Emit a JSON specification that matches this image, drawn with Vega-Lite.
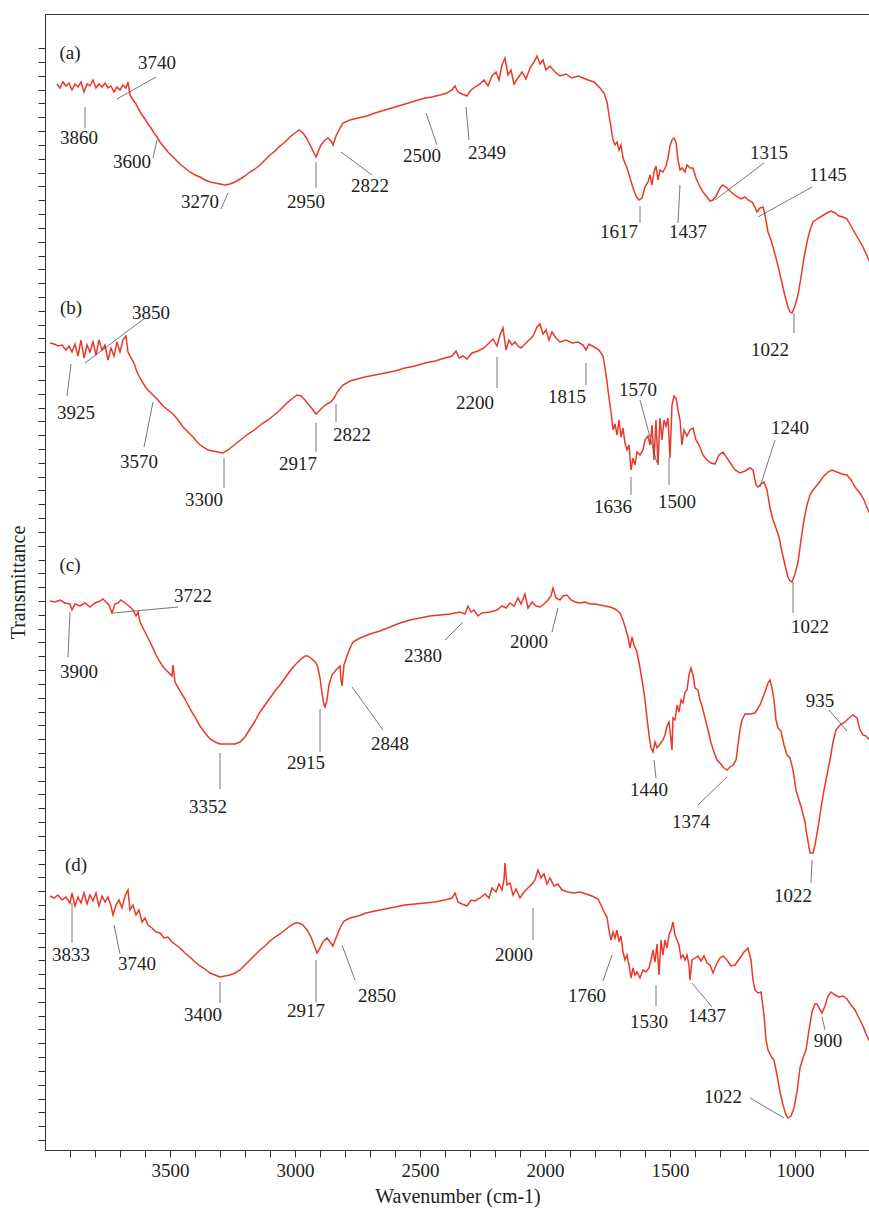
{
"$schema": "https://vega.github.io/schema/vega-lite/v6.json",
"width": 825,
"height": 1136,
"autosize": "none",
"padding": {"left": 45, "top": 14, "right": 0, "bottom": 60},
"background": "white",
"config": {
  "view": {"stroke": "#333", "strokeWidth": 1},
  "font": "Liberation Serif",
  "axis": {"labelFont": "Liberation Serif", "titleFont": "Liberation Serif", "titleFontWeight": "normal", "domainColor": "#333", "tickColor": "#333", "grid": false}
},
"datasets": {
"spectra": [
{"s":"a","wn":3952,"T":1066},{"s":"a","wn":3940,"T":1062},{"s":"a","wn":3928,"T":1068},{"s":"a","wn":3916,"T":1064},{"s":"a","wn":3904,"T":1067},{"s":"a","wn":3892,"T":1060},{"s":"a","wn":3880,"T":1066},{"s":"a","wn":3868,"T":1063},{"s":"a","wn":3856,"T":1068},{"s":"a","wn":3844,"T":1058},{"s":"a","wn":3832,"T":1066},{"s":"a","wn":3820,"T":1064},{"s":"a","wn":3808,"T":1070},{"s":"a","wn":3796,"T":1062},{"s":"a","wn":3784,"T":1066},{"s":"a","wn":3772,"T":1063},{"s":"a","wn":3760,"T":1067},{"s":"a","wn":3748,"T":1062},{"s":"a","wn":3736,"T":1064},{"s":"a","wn":3724,"T":1058},{"s":"a","wn":3712,"T":1063},{"s":"a","wn":3700,"T":1060},{"s":"a","wn":3688,"T":1065},{"s":"a","wn":3676,"T":1062},{"s":"a","wn":3668,"T":1068},{"s":"a","wn":3660,"T":1055},{"s":"a","wn":3648,"T":1050},{"s":"a","wn":3636,"T":1046},{"s":"a","wn":3624,"T":1040},{"s":"a","wn":3612,"T":1035},{"s":"a","wn":3600,"T":1031},{"s":"a","wn":3588,"T":1026},{"s":"a","wn":3576,"T":1022},{"s":"a","wn":3564,"T":1017},{"s":"a","wn":3552,"T":1013},{"s":"a","wn":3540,"T":1008},{"s":"a","wn":3524,"T":1003},{"s":"a","wn":3508,"T":998},{"s":"a","wn":3492,"T":994},{"s":"a","wn":3476,"T":990},{"s":"a","wn":3460,"T":986},{"s":"a","wn":3440,"T":982},{"s":"a","wn":3420,"T":978},{"s":"a","wn":3400,"T":975},{"s":"a","wn":3380,"T":973},{"s":"a","wn":3360,"T":970},{"s":"a","wn":3340,"T":968},{"s":"a","wn":3320,"T":967},{"s":"a","wn":3300,"T":966},{"s":"a","wn":3280,"T":965},{"s":"a","wn":3260,"T":966},{"s":"a","wn":3240,"T":968},{"s":"a","wn":3220,"T":971},{"s":"a","wn":3200,"T":974},{"s":"a","wn":3180,"T":978},{"s":"a","wn":3160,"T":981},{"s":"a","wn":3140,"T":985},{"s":"a","wn":3120,"T":990},{"s":"a","wn":3100,"T":995},{"s":"a","wn":3080,"T":999},{"s":"a","wn":3060,"T":1004},{"s":"a","wn":3040,"T":1008},{"s":"a","wn":3020,"T":1013},{"s":"a","wn":3000,"T":1017},{"s":"a","wn":2984,"T":1020},{"s":"a","wn":2968,"T":1017},{"s":"a","wn":2952,"T":1011},{"s":"a","wn":2936,"T":1003},{"s":"a","wn":2924,"T":997},{"s":"a","wn":2916,"T":993},{"s":"a","wn":2908,"T":998},{"s":"a","wn":2896,"T":1005},{"s":"a","wn":2880,"T":1010},{"s":"a","wn":2868,"T":1012},{"s":"a","wn":2856,"T":1009},{"s":"a","wn":2848,"T":1005},{"s":"a","wn":2836,"T":1014},{"s":"a","wn":2820,"T":1022},{"s":"a","wn":2808,"T":1027},{"s":"a","wn":2780,"T":1030},{"s":"a","wn":2748,"T":1032},{"s":"a","wn":2712,"T":1034},{"s":"a","wn":2680,"T":1037},{"s":"a","wn":2640,"T":1040},{"s":"a","wn":2600,"T":1043},{"s":"a","wn":2560,"T":1046},{"s":"a","wn":2520,"T":1049},{"s":"a","wn":2480,"T":1052},{"s":"a","wn":2452,"T":1053},{"s":"a","wn":2420,"T":1055},{"s":"a","wn":2392,"T":1057},{"s":"a","wn":2372,"T":1060},{"s":"a","wn":2360,"T":1064},{"s":"a","wn":2348,"T":1058},{"s":"a","wn":2332,"T":1056},{"s":"a","wn":2312,"T":1054},{"s":"a","wn":2296,"T":1060},{"s":"a","wn":2280,"T":1063},{"s":"a","wn":2260,"T":1066},{"s":"a","wn":2244,"T":1070},{"s":"a","wn":2228,"T":1064},{"s":"a","wn":2212,"T":1074},{"s":"a","wn":2196,"T":1078},{"s":"a","wn":2184,"T":1070},{"s":"a","wn":2172,"T":1085},{"s":"a","wn":2160,"T":1092},{"s":"a","wn":2148,"T":1075},{"s":"a","wn":2136,"T":1080},{"s":"a","wn":2124,"T":1066},{"s":"a","wn":2108,"T":1072},{"s":"a","wn":2092,"T":1078},{"s":"a","wn":2076,"T":1071},{"s":"a","wn":2060,"T":1082},{"s":"a","wn":2044,"T":1088},{"s":"a","wn":2032,"T":1094},{"s":"a","wn":2020,"T":1086},{"s":"a","wn":2008,"T":1090},{"s":"a","wn":1996,"T":1080},{"s":"a","wn":1980,"T":1084},{"s":"a","wn":1960,"T":1078},{"s":"a","wn":1940,"T":1074},{"s":"a","wn":1916,"T":1076},{"s":"a","wn":1892,"T":1072},{"s":"a","wn":1868,"T":1074},{"s":"a","wn":1848,"T":1072},{"s":"a","wn":1828,"T":1070},{"s":"a","wn":1804,"T":1068},{"s":"a","wn":1780,"T":1062},{"s":"a","wn":1764,"T":1057},{"s":"a","wn":1752,"T":1048},{"s":"a","wn":1744,"T":1035},{"s":"a","wn":1736,"T":1023},{"s":"a","wn":1728,"T":1010},{"s":"a","wn":1720,"T":1005},{"s":"a","wn":1712,"T":1008},{"s":"a","wn":1704,"T":1000},{"s":"a","wn":1696,"T":1005},{"s":"a","wn":1688,"T":992},{"s":"a","wn":1680,"T":987},{"s":"a","wn":1672,"T":982},{"s":"a","wn":1660,"T":972},{"s":"a","wn":1648,"T":962},{"s":"a","wn":1636,"T":954},{"s":"a","wn":1624,"T":950},{"s":"a","wn":1612,"T":952},{"s":"a","wn":1600,"T":963},{"s":"a","wn":1588,"T":968},{"s":"a","wn":1580,"T":975},{"s":"a","wn":1572,"T":965},{"s":"a","wn":1564,"T":978},{"s":"a","wn":1556,"T":984},{"s":"a","wn":1548,"T":970},{"s":"a","wn":1540,"T":980},{"s":"a","wn":1528,"T":978},{"s":"a","wn":1516,"T":984},{"s":"a","wn":1508,"T":992},{"s":"a","wn":1500,"T":1004},{"s":"a","wn":1492,"T":1010},{"s":"a","wn":1484,"T":1012},{"s":"a","wn":1476,"T":1008},{"s":"a","wn":1468,"T":990},{"s":"a","wn":1460,"T":980},{"s":"a","wn":1452,"T":982},{"s":"a","wn":1440,"T":978},{"s":"a","wn":1432,"T":985},{"s":"a","wn":1420,"T":982},{"s":"a","wn":1408,"T":982},{"s":"a","wn":1396,"T":972},{"s":"a","wn":1380,"T":963},{"s":"a","wn":1368,"T":958},{"s":"a","wn":1352,"T":953},{"s":"a","wn":1340,"T":949},{"s":"a","wn":1328,"T":950},{"s":"a","wn":1316,"T":954},{"s":"a","wn":1300,"T":962},{"s":"a","wn":1288,"T":965},{"s":"a","wn":1272,"T":962},{"s":"a","wn":1256,"T":958},{"s":"a","wn":1236,"T":954},{"s":"a","wn":1216,"T":951},{"s":"a","wn":1200,"T":953},{"s":"a","wn":1188,"T":950},{"s":"a","wn":1172,"T":948},{"s":"a","wn":1160,"T":943},{"s":"a","wn":1152,"T":938},{"s":"a","wn":1140,"T":942},{"s":"a","wn":1128,"T":943},{"s":"a","wn":1120,"T":935},{"s":"a","wn":1108,"T":918},{"s":"a","wn":1096,"T":910},{"s":"a","wn":1088,"T":903},{"s":"a","wn":1076,"T":892},{"s":"a","wn":1064,"T":880},{"s":"a","wn":1052,"T":867},{"s":"a","wn":1040,"T":854},{"s":"a","wn":1028,"T":843},{"s":"a","wn":1020,"T":838},{"s":"a","wn":1012,"T":837},{"s":"a","wn":1000,"T":844},{"s":"a","wn":988,"T":855},{"s":"a","wn":976,"T":873},{"s":"a","wn":964,"T":892},{"s":"a","wn":952,"T":908},{"s":"a","wn":940,"T":920},{"s":"a","wn":928,"T":928},{"s":"a","wn":912,"T":931},{"s":"a","wn":892,"T":934},{"s":"a","wn":872,"T":937},{"s":"a","wn":856,"T":939},{"s":"a","wn":840,"T":937},{"s":"a","wn":824,"T":934},{"s":"a","wn":808,"T":933},{"s":"a","wn":792,"T":931},{"s":"a","wn":776,"T":924},{"s":"a","wn":760,"T":917},{"s":"a","wn":744,"T":910},{"s":"a","wn":728,"T":903},{"s":"a","wn":708,"T":892},{"s":"a","wn":700,"T":888},
{"s":"b","wn":3980,"T":807},{"s":"b","wn":3964,"T":806},{"s":"b","wn":3948,"T":804},{"s":"b","wn":3932,"T":805},{"s":"b","wn":3916,"T":800},{"s":"b","wn":3904,"T":804},{"s":"b","wn":3892,"T":798},{"s":"b","wn":3880,"T":806},{"s":"b","wn":3868,"T":794},{"s":"b","wn":3856,"T":810},{"s":"b","wn":3844,"T":792},{"s":"b","wn":3832,"T":805},{"s":"b","wn":3820,"T":798},{"s":"b","wn":3808,"T":808},{"s":"b","wn":3796,"T":795},{"s":"b","wn":3784,"T":810},{"s":"b","wn":3772,"T":800},{"s":"b","wn":3760,"T":805},{"s":"b","wn":3748,"T":790},{"s":"b","wn":3736,"T":802},{"s":"b","wn":3724,"T":794},{"s":"b","wn":3712,"T":808},{"s":"b","wn":3700,"T":798},{"s":"b","wn":3688,"T":810},{"s":"b","wn":3676,"T":814},{"s":"b","wn":3668,"T":798},{"s":"b","wn":3656,"T":792},{"s":"b","wn":3644,"T":787},{"s":"b","wn":3632,"T":778},{"s":"b","wn":3620,"T":772},{"s":"b","wn":3608,"T":767},{"s":"b","wn":3596,"T":762},{"s":"b","wn":3580,"T":758},{"s":"b","wn":3564,"T":754},{"s":"b","wn":3548,"T":750},{"s":"b","wn":3528,"T":744},{"s":"b","wn":3508,"T":740},{"s":"b","wn":3488,"T":736},{"s":"b","wn":3468,"T":730},{"s":"b","wn":3448,"T":723},{"s":"b","wn":3428,"T":718},{"s":"b","wn":3408,"T":713},{"s":"b","wn":3388,"T":707},{"s":"b","wn":3368,"T":703},{"s":"b","wn":3348,"T":700},{"s":"b","wn":3328,"T":699},{"s":"b","wn":3308,"T":698},{"s":"b","wn":3288,"T":697},{"s":"b","wn":3268,"T":700},{"s":"b","wn":3248,"T":704},{"s":"b","wn":3228,"T":708},{"s":"b","wn":3208,"T":712},{"s":"b","wn":3188,"T":716},{"s":"b","wn":3168,"T":719},{"s":"b","wn":3148,"T":723},{"s":"b","wn":3128,"T":727},{"s":"b","wn":3108,"T":730},{"s":"b","wn":3088,"T":734},{"s":"b","wn":3068,"T":738},{"s":"b","wn":3048,"T":743},{"s":"b","wn":3028,"T":748},{"s":"b","wn":3008,"T":752},{"s":"b","wn":2992,"T":755},{"s":"b","wn":2976,"T":754},{"s":"b","wn":2960,"T":750},{"s":"b","wn":2944,"T":745},{"s":"b","wn":2928,"T":740},{"s":"b","wn":2916,"T":736},{"s":"b","wn":2904,"T":739},{"s":"b","wn":2888,"T":743},{"s":"b","wn":2872,"T":746},{"s":"b","wn":2856,"T":748},{"s":"b","wn":2844,"T":752},{"s":"b","wn":2828,"T":759},{"s":"b","wn":2808,"T":765},{"s":"b","wn":2780,"T":769},{"s":"b","wn":2752,"T":771},{"s":"b","wn":2720,"T":773},{"s":"b","wn":2680,"T":775},{"s":"b","wn":2640,"T":777},{"s":"b","wn":2600,"T":779},{"s":"b","wn":2560,"T":782},{"s":"b","wn":2520,"T":784},{"s":"b","wn":2480,"T":787},{"s":"b","wn":2440,"T":789},{"s":"b","wn":2400,"T":792},{"s":"b","wn":2372,"T":794},{"s":"b","wn":2356,"T":799},{"s":"b","wn":2344,"T":792},{"s":"b","wn":2328,"T":794},{"s":"b","wn":2312,"T":791},{"s":"b","wn":2292,"T":797},{"s":"b","wn":2268,"T":799},{"s":"b","wn":2244,"T":802},{"s":"b","wn":2224,"T":807},{"s":"b","wn":2208,"T":811},{"s":"b","wn":2192,"T":804},{"s":"b","wn":2180,"T":815},{"s":"b","wn":2168,"T":822},{"s":"b","wn":2156,"T":800},{"s":"b","wn":2144,"T":810},{"s":"b","wn":2132,"T":805},{"s":"b","wn":2120,"T":808},{"s":"b","wn":2108,"T":804},{"s":"b","wn":2096,"T":802},{"s":"b","wn":2080,"T":806},{"s":"b","wn":2064,"T":810},{"s":"b","wn":2048,"T":814},{"s":"b","wn":2032,"T":823},{"s":"b","wn":2020,"T":826},{"s":"b","wn":2008,"T":816},{"s":"b","wn":1996,"T":820},{"s":"b","wn":1984,"T":810},{"s":"b","wn":1972,"T":818},{"s":"b","wn":1956,"T":812},{"s":"b","wn":1940,"T":808},{"s":"b","wn":1916,"T":810},{"s":"b","wn":1892,"T":807},{"s":"b","wn":1868,"T":808},{"s":"b","wn":1848,"T":805},{"s":"b","wn":1836,"T":800},{"s":"b","wn":1824,"T":806},{"s":"b","wn":1804,"T":803},{"s":"b","wn":1784,"T":800},{"s":"b","wn":1768,"T":794},{"s":"b","wn":1760,"T":782},{"s":"b","wn":1752,"T":768},{"s":"b","wn":1744,"T":752},{"s":"b","wn":1736,"T":738},{"s":"b","wn":1728,"T":720},{"s":"b","wn":1720,"T":726},{"s":"b","wn":1712,"T":715},{"s":"b","wn":1704,"T":730},{"s":"b","wn":1696,"T":713},{"s":"b","wn":1688,"T":722},{"s":"b","wn":1680,"T":707},{"s":"b","wn":1672,"T":700},{"s":"b","wn":1664,"T":705},{"s":"b","wn":1656,"T":680},{"s":"b","wn":1648,"T":692},{"s":"b","wn":1640,"T":685},{"s":"b","wn":1632,"T":698},{"s":"b","wn":1620,"T":695},{"s":"b","wn":1608,"T":700},{"s":"b","wn":1600,"T":710},{"s":"b","wn":1588,"T":714},{"s":"b","wn":1580,"T":705},{"s":"b","wn":1572,"T":725},{"s":"b","wn":1564,"T":690},{"s":"b","wn":1556,"T":730},{"s":"b","wn":1548,"T":685},{"s":"b","wn":1540,"T":732},{"s":"b","wn":1532,"T":710},{"s":"b","wn":1524,"T":730},{"s":"b","wn":1516,"T":724},{"s":"b","wn":1508,"T":732},{"s":"b","wn":1500,"T":692},{"s":"b","wn":1492,"T":745},{"s":"b","wn":1484,"T":754},{"s":"b","wn":1476,"T":752},{"s":"b","wn":1468,"T":740},{"s":"b","wn":1460,"T":730},{"s":"b","wn":1452,"T":705},{"s":"b","wn":1444,"T":720},{"s":"b","wn":1432,"T":714},{"s":"b","wn":1420,"T":720},{"s":"b","wn":1408,"T":722},{"s":"b","wn":1396,"T":710},{"s":"b","wn":1384,"T":705},{"s":"b","wn":1368,"T":695},{"s":"b","wn":1352,"T":690},{"s":"b","wn":1336,"T":687},{"s":"b","wn":1320,"T":686},{"s":"b","wn":1304,"T":695},{"s":"b","wn":1288,"T":698},{"s":"b","wn":1272,"T":692},{"s":"b","wn":1256,"T":686},{"s":"b","wn":1240,"T":680},{"s":"b","wn":1220,"T":677},{"s":"b","wn":1200,"T":679},{"s":"b","wn":1180,"T":682},{"s":"b","wn":1168,"T":680},{"s":"b","wn":1156,"T":665},{"s":"b","wn":1148,"T":663},{"s":"b","wn":1136,"T":666},{"s":"b","wn":1124,"T":668},{"s":"b","wn":1112,"T":660},{"s":"b","wn":1100,"T":642},{"s":"b","wn":1088,"T":630},{"s":"b","wn":1076,"T":622},{"s":"b","wn":1064,"T":613},{"s":"b","wn":1052,"T":598},{"s":"b","wn":1040,"T":585},{"s":"b","wn":1028,"T":573},{"s":"b","wn":1020,"T":569},{"s":"b","wn":1012,"T":568},{"s":"b","wn":1000,"T":576},{"s":"b","wn":988,"T":588},{"s":"b","wn":976,"T":610},{"s":"b","wn":964,"T":630},{"s":"b","wn":952,"T":645},{"s":"b","wn":940,"T":655},{"s":"b","wn":928,"T":660},{"s":"b","wn":908,"T":666},{"s":"b","wn":888,"T":673},{"s":"b","wn":868,"T":678},{"s":"b","wn":852,"T":680},{"s":"b","wn":832,"T":678},{"s":"b","wn":812,"T":676},{"s":"b","wn":792,"T":675},{"s":"b","wn":776,"T":670},{"s":"b","wn":760,"T":663},{"s":"b","wn":740,"T":657},{"s":"b","wn":724,"T":650},{"s":"b","wn":708,"T":640},{"s":"b","wn":700,"T":636},
{"s":"c","wn":3980,"T":549},{"s":"c","wn":3960,"T":548},{"s":"c","wn":3940,"T":550},{"s":"c","wn":3920,"T":547},{"s":"c","wn":3900,"T":546},{"s":"c","wn":3892,"T":540},{"s":"c","wn":3880,"T":546},{"s":"c","wn":3860,"T":544},{"s":"c","wn":3840,"T":547},{"s":"c","wn":3820,"T":543},{"s":"c","wn":3800,"T":547},{"s":"c","wn":3780,"T":549},{"s":"c","wn":3768,"T":551},{"s":"c","wn":3756,"T":548},{"s":"c","wn":3744,"T":545},{"s":"c","wn":3732,"T":537},{"s":"c","wn":3720,"T":546},{"s":"c","wn":3708,"T":547},{"s":"c","wn":3696,"T":550},{"s":"c","wn":3680,"T":547},{"s":"c","wn":3664,"T":544},{"s":"c","wn":3648,"T":540},{"s":"c","wn":3636,"T":534},{"s":"c","wn":3628,"T":538},{"s":"c","wn":3620,"T":528},{"s":"c","wn":3604,"T":520},{"s":"c","wn":3588,"T":512},{"s":"c","wn":3572,"T":504},{"s":"c","wn":3556,"T":495},{"s":"c","wn":3540,"T":488},{"s":"c","wn":3524,"T":482},{"s":"c","wn":3508,"T":478},{"s":"c","wn":3492,"T":474},{"s":"c","wn":3488,"T":485},{"s":"c","wn":3480,"T":468},{"s":"c","wn":3460,"T":459},{"s":"c","wn":3440,"T":451},{"s":"c","wn":3420,"T":441},{"s":"c","wn":3400,"T":433},{"s":"c","wn":3380,"T":424},{"s":"c","wn":3360,"T":417},{"s":"c","wn":3340,"T":411},{"s":"c","wn":3320,"T":408},{"s":"c","wn":3300,"T":406},{"s":"c","wn":3280,"T":406},{"s":"c","wn":3260,"T":406},{"s":"c","wn":3240,"T":406},{"s":"c","wn":3220,"T":408},{"s":"c","wn":3200,"T":413},{"s":"c","wn":3180,"T":421},{"s":"c","wn":3160,"T":429},{"s":"c","wn":3140,"T":438},{"s":"c","wn":3120,"T":445},{"s":"c","wn":3100,"T":452},{"s":"c","wn":3080,"T":459},{"s":"c","wn":3060,"T":465},{"s":"c","wn":3040,"T":472},{"s":"c","wn":3020,"T":479},{"s":"c","wn":3000,"T":485},{"s":"c","wn":2980,"T":490},{"s":"c","wn":2960,"T":494},{"s":"c","wn":2948,"T":494},{"s":"c","wn":2932,"T":491},{"s":"c","wn":2916,"T":487},{"s":"c","wn":2908,"T":482},{"s":"c","wn":2900,"T":472},{"s":"c","wn":2892,"T":457},{"s":"c","wn":2884,"T":445},{"s":"c","wn":2880,"T":443},{"s":"c","wn":2872,"T":450},{"s":"c","wn":2864,"T":465},{"s":"c","wn":2852,"T":475},{"s":"c","wn":2836,"T":480},{"s":"c","wn":2820,"T":484},{"s":"c","wn":2816,"T":470},{"s":"c","wn":2812,"T":464},{"s":"c","wn":2804,"T":485},{"s":"c","wn":2792,"T":494},{"s":"c","wn":2780,"T":502},{"s":"c","wn":2768,"T":508},{"s":"c","wn":2740,"T":512},{"s":"c","wn":2700,"T":516},{"s":"c","wn":2660,"T":519},{"s":"c","wn":2620,"T":523},{"s":"c","wn":2580,"T":527},{"s":"c","wn":2540,"T":530},{"s":"c","wn":2500,"T":532},{"s":"c","wn":2460,"T":534},{"s":"c","wn":2420,"T":535},{"s":"c","wn":2380,"T":536},{"s":"c","wn":2340,"T":538},{"s":"c","wn":2320,"T":536},{"s":"c","wn":2308,"T":544},{"s":"c","wn":2296,"T":538},{"s":"c","wn":2284,"T":540},{"s":"c","wn":2268,"T":534},{"s":"c","wn":2252,"T":537},{"s":"c","wn":2220,"T":538},{"s":"c","wn":2192,"T":540},{"s":"c","wn":2172,"T":544},{"s":"c","wn":2156,"T":542},{"s":"c","wn":2140,"T":547},{"s":"c","wn":2124,"T":544},{"s":"c","wn":2108,"T":552},{"s":"c","wn":2096,"T":546},{"s":"c","wn":2080,"T":556},{"s":"c","wn":2068,"T":542},{"s":"c","wn":2052,"T":548},{"s":"c","wn":2036,"T":544},{"s":"c","wn":2020,"T":543},{"s":"c","wn":2004,"T":546},{"s":"c","wn":1988,"T":550},{"s":"c","wn":1976,"T":554},{"s":"c","wn":1968,"T":562},{"s":"c","wn":1956,"T":552},{"s":"c","wn":1940,"T":550},{"s":"c","wn":1928,"T":554},{"s":"c","wn":1912,"T":555},{"s":"c","wn":1896,"T":550},{"s":"c","wn":1880,"T":548},{"s":"c","wn":1860,"T":547},{"s":"c","wn":1840,"T":548},{"s":"c","wn":1820,"T":546},{"s":"c","wn":1800,"T":546},{"s":"c","wn":1780,"T":545},{"s":"c","wn":1760,"T":544},{"s":"c","wn":1740,"T":543},{"s":"c","wn":1720,"T":541},{"s":"c","wn":1700,"T":537},{"s":"c","wn":1688,"T":530},{"s":"c","wn":1676,"T":520},{"s":"c","wn":1668,"T":513},{"s":"c","wn":1660,"T":502},{"s":"c","wn":1652,"T":513},{"s":"c","wn":1644,"T":505},{"s":"c","wn":1632,"T":498},{"s":"c","wn":1620,"T":482},{"s":"c","wn":1608,"T":464},{"s":"c","wn":1600,"T":450},{"s":"c","wn":1592,"T":432},{"s":"c","wn":1584,"T":415},{"s":"c","wn":1576,"T":402},{"s":"c","wn":1568,"T":398},{"s":"c","wn":1560,"T":408},{"s":"c","wn":1552,"T":402},{"s":"c","wn":1540,"T":406},{"s":"c","wn":1528,"T":410},{"s":"c","wn":1520,"T":415},{"s":"c","wn":1512,"T":424},{"s":"c","wn":1504,"T":428},{"s":"c","wn":1496,"T":410},{"s":"c","wn":1492,"T":400},{"s":"c","wn":1488,"T":432},{"s":"c","wn":1480,"T":430},{"s":"c","wn":1472,"T":445},{"s":"c","wn":1464,"T":438},{"s":"c","wn":1456,"T":450},{"s":"c","wn":1448,"T":447},{"s":"c","wn":1440,"T":458},{"s":"c","wn":1432,"T":460},{"s":"c","wn":1424,"T":475},{"s":"c","wn":1416,"T":482},{"s":"c","wn":1408,"T":475},{"s":"c","wn":1400,"T":462},{"s":"c","wn":1388,"T":460},{"s":"c","wn":1380,"T":450},{"s":"c","wn":1372,"T":444},{"s":"c","wn":1360,"T":432},{"s":"c","wn":1348,"T":420},{"s":"c","wn":1336,"T":407},{"s":"c","wn":1324,"T":398},{"s":"c","wn":1312,"T":390},{"s":"c","wn":1300,"T":387},{"s":"c","wn":1284,"T":382},{"s":"c","wn":1272,"T":380},{"s":"c","wn":1260,"T":383},{"s":"c","wn":1248,"T":385},{"s":"c","wn":1236,"T":390},{"s":"c","wn":1228,"T":405},{"s":"c","wn":1220,"T":420},{"s":"c","wn":1212,"T":430},{"s":"c","wn":1200,"T":436},{"s":"c","wn":1180,"T":436},{"s":"c","wn":1160,"T":437},{"s":"c","wn":1140,"T":445},{"s":"c","wn":1120,"T":458},{"s":"c","wn":1108,"T":467},{"s":"c","wn":1100,"T":470},{"s":"c","wn":1092,"T":462},{"s":"c","wn":1084,"T":450},{"s":"c","wn":1076,"T":430},{"s":"c","wn":1068,"T":422},{"s":"c","wn":1056,"T":419},{"s":"c","wn":1044,"T":405},{"s":"c","wn":1032,"T":395},{"s":"c","wn":1020,"T":392},{"s":"c","wn":1008,"T":380},{"s":"c","wn":996,"T":360},{"s":"c","wn":984,"T":350},{"s":"c","wn":972,"T":340},{"s":"c","wn":960,"T":328},{"s":"c","wn":952,"T":314},{"s":"c","wn":940,"T":297},{"s":"c","wn":928,"T":297},{"s":"c","wn":920,"T":305},{"s":"c","wn":908,"T":322},{"s":"c","wn":896,"T":342},{"s":"c","wn":884,"T":360},{"s":"c","wn":872,"T":375},{"s":"c","wn":860,"T":390},{"s":"c","wn":848,"T":408},{"s":"c","wn":836,"T":420},{"s":"c","wn":820,"T":425},{"s":"c","wn":800,"T":428},{"s":"c","wn":784,"T":432},{"s":"c","wn":768,"T":435},{"s":"c","wn":752,"T":432},{"s":"c","wn":740,"T":420},{"s":"c","wn":728,"T":415},{"s":"c","wn":716,"T":414},{"s":"c","wn":700,"T":410},
{"s":"d","wn":3980,"T":254},{"s":"d","wn":3964,"T":252},{"s":"d","wn":3948,"T":255},{"s":"d","wn":3932,"T":250},{"s":"d","wn":3916,"T":253},{"s":"d","wn":3900,"T":247},{"s":"d","wn":3892,"T":257},{"s":"d","wn":3880,"T":244},{"s":"d","wn":3868,"T":253},{"s":"d","wn":3856,"T":247},{"s":"d","wn":3844,"T":257},{"s":"d","wn":3832,"T":246},{"s":"d","wn":3820,"T":255},{"s":"d","wn":3808,"T":249},{"s":"d","wn":3796,"T":257},{"s":"d","wn":3784,"T":244},{"s":"d","wn":3772,"T":254},{"s":"d","wn":3760,"T":248},{"s":"d","wn":3748,"T":253},{"s":"d","wn":3736,"T":244},{"s":"d","wn":3728,"T":235},{"s":"d","wn":3716,"T":245},{"s":"d","wn":3704,"T":250},{"s":"d","wn":3692,"T":242},{"s":"d","wn":3680,"T":254},{"s":"d","wn":3668,"T":260},{"s":"d","wn":3660,"T":240},{"s":"d","wn":3648,"T":245},{"s":"d","wn":3636,"T":235},{"s":"d","wn":3624,"T":240},{"s":"d","wn":3612,"T":228},{"s":"d","wn":3600,"T":232},{"s":"d","wn":3588,"T":225},{"s":"d","wn":3572,"T":222},{"s":"d","wn":3556,"T":218},{"s":"d","wn":3540,"T":217},{"s":"d","wn":3524,"T":212},{"s":"d","wn":3508,"T":213},{"s":"d","wn":3492,"T":208},{"s":"d","wn":3476,"T":205},{"s":"d","wn":3460,"T":202},{"s":"d","wn":3440,"T":197},{"s":"d","wn":3420,"T":193},{"s":"d","wn":3400,"T":188},{"s":"d","wn":3380,"T":184},{"s":"d","wn":3360,"T":181},{"s":"d","wn":3340,"T":177},{"s":"d","wn":3320,"T":175},{"s":"d","wn":3300,"T":173},{"s":"d","wn":3280,"T":174},{"s":"d","wn":3260,"T":175},{"s":"d","wn":3240,"T":177},{"s":"d","wn":3220,"T":180},{"s":"d","wn":3200,"T":185},{"s":"d","wn":3180,"T":190},{"s":"d","wn":3160,"T":195},{"s":"d","wn":3140,"T":200},{"s":"d","wn":3120,"T":204},{"s":"d","wn":3100,"T":209},{"s":"d","wn":3080,"T":213},{"s":"d","wn":3060,"T":216},{"s":"d","wn":3040,"T":220},{"s":"d","wn":3020,"T":224},{"s":"d","wn":3000,"T":227},{"s":"d","wn":2984,"T":227},{"s":"d","wn":2968,"T":225},{"s":"d","wn":2952,"T":220},{"s":"d","wn":2936,"T":213},{"s":"d","wn":2924,"T":205},{"s":"d","wn":2912,"T":197},{"s":"d","wn":2900,"T":202},{"s":"d","wn":2888,"T":208},{"s":"d","wn":2872,"T":212},{"s":"d","wn":2860,"T":208},{"s":"d","wn":2848,"T":204},{"s":"d","wn":2836,"T":212},{"s":"d","wn":2820,"T":222},{"s":"d","wn":2804,"T":229},{"s":"d","wn":2780,"T":232},{"s":"d","wn":2748,"T":234},{"s":"d","wn":2716,"T":237},{"s":"d","wn":2680,"T":239},{"s":"d","wn":2640,"T":241},{"s":"d","wn":2600,"T":243},{"s":"d","wn":2560,"T":245},{"s":"d","wn":2520,"T":246},{"s":"d","wn":2480,"T":247},{"s":"d","wn":2440,"T":248},{"s":"d","wn":2400,"T":250},{"s":"d","wn":2372,"T":252},{"s":"d","wn":2360,"T":257},{"s":"d","wn":2348,"T":248},{"s":"d","wn":2332,"T":246},{"s":"d","wn":2312,"T":244},{"s":"d","wn":2296,"T":250},{"s":"d","wn":2280,"T":249},{"s":"d","wn":2260,"T":252},{"s":"d","wn":2240,"T":256},{"s":"d","wn":2224,"T":252},{"s":"d","wn":2212,"T":262},{"s":"d","wn":2196,"T":258},{"s":"d","wn":2184,"T":266},{"s":"d","wn":2172,"T":260},{"s":"d","wn":2164,"T":270},{"s":"d","wn":2160,"T":287},{"s":"d","wn":2152,"T":265},{"s":"d","wn":2140,"T":267},{"s":"d","wn":2128,"T":255},{"s":"d","wn":2116,"T":261},{"s":"d","wn":2100,"T":252},{"s":"d","wn":2084,"T":258},{"s":"d","wn":2068,"T":262},{"s":"d","wn":2052,"T":266},{"s":"d","wn":2040,"T":270},{"s":"d","wn":2028,"T":280},{"s":"d","wn":2016,"T":272},{"s":"d","wn":2004,"T":276},{"s":"d","wn":1992,"T":266},{"s":"d","wn":1980,"T":272},{"s":"d","wn":1964,"T":264},{"s":"d","wn":1948,"T":266},{"s":"d","wn":1932,"T":260},{"s":"d","wn":1908,"T":258},{"s":"d","wn":1884,"T":257},{"s":"d","wn":1860,"T":258},{"s":"d","wn":1836,"T":256},{"s":"d","wn":1812,"T":254},{"s":"d","wn":1788,"T":251},{"s":"d","wn":1776,"T":245},{"s":"d","wn":1764,"T":238},{"s":"d","wn":1752,"T":233},{"s":"d","wn":1744,"T":220},{"s":"d","wn":1736,"T":210},{"s":"d","wn":1728,"T":218},{"s":"d","wn":1720,"T":212},{"s":"d","wn":1712,"T":220},{"s":"d","wn":1704,"T":208},{"s":"d","wn":1696,"T":214},{"s":"d","wn":1688,"T":198},{"s":"d","wn":1680,"T":190},{"s":"d","wn":1672,"T":195},{"s":"d","wn":1664,"T":185},{"s":"d","wn":1656,"T":172},{"s":"d","wn":1648,"T":182},{"s":"d","wn":1640,"T":175},{"s":"d","wn":1632,"T":178},{"s":"d","wn":1620,"T":172},{"s":"d","wn":1608,"T":180},{"s":"d","wn":1596,"T":178},{"s":"d","wn":1584,"T":182},{"s":"d","wn":1576,"T":190},{"s":"d","wn":1568,"T":200},{"s":"d","wn":1560,"T":188},{"s":"d","wn":1552,"T":206},{"s":"d","wn":1544,"T":175},{"s":"d","wn":1536,"T":210},{"s":"d","wn":1528,"T":195},{"s":"d","wn":1520,"T":210},{"s":"d","wn":1512,"T":202},{"s":"d","wn":1504,"T":215},{"s":"d","wn":1496,"T":220},{"s":"d","wn":1488,"T":228},{"s":"d","wn":1480,"T":215},{"s":"d","wn":1472,"T":210},{"s":"d","wn":1464,"T":205},{"s":"d","wn":1456,"T":192},{"s":"d","wn":1448,"T":195},{"s":"d","wn":1440,"T":190},{"s":"d","wn":1432,"T":195},{"s":"d","wn":1424,"T":185},{"s":"d","wn":1420,"T":170},{"s":"d","wn":1412,"T":190},{"s":"d","wn":1400,"T":192},{"s":"d","wn":1388,"T":194},{"s":"d","wn":1376,"T":189},{"s":"d","wn":1364,"T":194},{"s":"d","wn":1352,"T":187},{"s":"d","wn":1340,"T":185},{"s":"d","wn":1328,"T":177},{"s":"d","wn":1312,"T":187},{"s":"d","wn":1300,"T":192},{"s":"d","wn":1288,"T":194},{"s":"d","wn":1272,"T":190},{"s":"d","wn":1256,"T":184},{"s":"d","wn":1240,"T":185},{"s":"d","wn":1220,"T":192},{"s":"d","wn":1204,"T":198},{"s":"d","wn":1188,"T":202},{"s":"d","wn":1176,"T":190},{"s":"d","wn":1168,"T":170},{"s":"d","wn":1160,"T":160},{"s":"d","wn":1148,"T":157},{"s":"d","wn":1136,"T":158},{"s":"d","wn":1124,"T":135},{"s":"d","wn":1116,"T":110},{"s":"d","wn":1108,"T":100},{"s":"d","wn":1096,"T":94},{"s":"d","wn":1084,"T":90},{"s":"d","wn":1072,"T":75},{"s":"d","wn":1060,"T":58},{"s":"d","wn":1048,"T":45},{"s":"d","wn":1036,"T":35},{"s":"d","wn":1028,"T":32},{"s":"d","wn":1016,"T":34},{"s":"d","wn":1004,"T":42},{"s":"d","wn":992,"T":58},{"s":"d","wn":980,"T":82},{"s":"d","wn":968,"T":92},{"s":"d","wn":956,"T":100},{"s":"d","wn":944,"T":120},{"s":"d","wn":932,"T":138},{"s":"d","wn":920,"T":146},{"s":"d","wn":912,"T":146},{"s":"d","wn":904,"T":142},{"s":"d","wn":892,"T":137},{"s":"d","wn":880,"T":144},{"s":"d","wn":868,"T":154},{"s":"d","wn":856,"T":158},{"s":"d","wn":840,"T":155},{"s":"d","wn":824,"T":153},{"s":"d","wn":808,"T":154},{"s":"d","wn":792,"T":151},{"s":"d","wn":776,"T":145},{"s":"d","wn":760,"T":140},{"s":"d","wn":744,"T":132},{"s":"d","wn":728,"T":124},{"s":"d","wn":716,"T":116},{"s":"d","wn":700,"T":108}
],
"leaders": [
{"wn":3840,"T":1043,"wn2":3840,"T2":1022},{"wn":3712,"T":1051,"wn2":3556,"T2":1073},{"wn":3552,"T":1010,"wn2":3568,"T2":992},{"wn":3268,"T":957,"wn2":3296,"T2":941},{"wn":2916,"T":988,"wn2":2916,"T2":962},{"wn":2816,"T":998,"wn2":2692,"T2":975},{"wn":2476,"T":1037,"wn2":2432,"T2":1005},{"wn":2316,"T":1043,"wn2":2304,"T2":1010},{"wn":1620,"T":944,"wn2":1620,"T2":927},{"wn":1460,"T":965,"wn2":1468,"T2":927},{"wn":1320,"T":950,"wn2":1124,"T2":987},{"wn":1148,"T":933,"wn2":932,"T2":963},{"wn":1004,"T":837,"wn2":1004,"T2":817},
{"wn":3840,"T":787,"wn2":3600,"T2":832},{"wn":3896,"T":786,"wn2":3912,"T2":754},{"wn":3568,"T":748,"wn2":3604,"T2":703},{"wn":3284,"T":692,"wn2":3284,"T2":662},{"wn":2916,"T":727,"wn2":2916,"T2":698},{"wn":2836,"T":746,"wn2":2836,"T2":728},{"wn":2192,"T":793,"wn2":2192,"T2":762},{"wn":1836,"T":787,"wn2":1836,"T2":765},{"wn":1620,"T":750,"wn2":1552,"T2":687},{"wn":1656,"T":673,"wn2":1656,"T2":655},{"wn":1504,"T":692,"wn2":1504,"T2":665},{"wn":1140,"T":663,"wn2":1080,"T2":710},{"wn":1008,"T":568,"wn2":1008,"T2":537},
{"wn":3728,"T":537,"wn2":3468,"T2":543},{"wn":3900,"T":538,"wn2":3908,"T2":493},{"wn":3300,"T":397,"wn2":3300,"T2":361},{"wn":2900,"T":441,"wn2":2900,"T2":398},{"wn":2772,"T":463,"wn2":2648,"T2":420},{"wn":2400,"T":510,"wn2":2328,"T2":528},{"wn":1972,"T":518,"wn2":1948,"T2":542},{"wn":1564,"T":390,"wn2":1556,"T2":372},{"wn":1272,"T":373,"wn2":1388,"T2":345},{"wn":864,"T":440,"wn2":792,"T2":419},{"wn":932,"T":290,"wn2":936,"T2":267},
{"wn":3892,"T":247,"wn2":3892,"T2":207},{"wn":3724,"T":225,"wn2":3700,"T2":196},{"wn":3300,"T":168,"wn2":3300,"T2":147},{"wn":2916,"T":190,"wn2":2916,"T2":148},{"wn":2812,"T":205,"wn2":2760,"T2":170},{"wn":2048,"T":242,"wn2":2048,"T2":210},{"wn":1732,"T":195,"wn2":1768,"T2":169},{"wn":1556,"T":165,"wn2":1556,"T2":144},{"wn":1412,"T":167,"wn2":1332,"T2":143},{"wn":892,"T":133,"wn2":880,"T2":120},{"wn":1180,"T":52,"wn2":1044,"T2":32}
],
"labels": [
{"wn":3864,"T":1012,"label":"3860"},{"wn":3552,"T":1087,"label":"3740"},{"wn":3652,"T":988,"label":"3600"},{"wn":3380,"T":948,"label":"3270"},{"wn":2956,"T":948,"label":"2950"},{"wn":2700,"T":964,"label":"2822"},{"wn":2492,"T":994,"label":"2500"},{"wn":2232,"T":997,"label":"2349"},{"wn":1704,"T":918,"label":"1617"},{"wn":1428,"T":918,"label":"1437"},{"wn":1104,"T":997,"label":"1315"},{"wn":868,"T":975,"label":"1145"},{"wn":1100,"T":800,"label":"1022"},
{"wn":3576,"T":837,"label":"3850"},{"wn":3876,"T":737,"label":"3925"},{"wn":3624,"T":688,"label":"3570"},{"wn":3364,"T":650,"label":"3300"},{"wn":2988,"T":686,"label":"2917"},{"wn":2772,"T":715,"label":"2822"},{"wn":2280,"T":747,"label":"2200"},{"wn":1912,"T":753,"label":"1815"},{"wn":1628,"T":760,"label":"1570"},{"wn":1728,"T":643,"label":"1636"},{"wn":1472,"T":648,"label":"1500"},{"wn":1020,"T":722,"label":"1240"},{"wn":940,"T":523,"label":"1022"},
{"wn":3408,"T":554,"label":"3722"},{"wn":3864,"T":478,"label":"3900"},{"wn":3348,"T":343,"label":"3352"},{"wn":2956,"T":387,"label":"2915"},{"wn":2620,"T":406,"label":"2848"},{"wn":2488,"T":494,"label":"2380"},{"wn":2064,"T":508,"label":"2000"},{"wn":1584,"T":360,"label":"1440"},{"wn":1416,"T":328,"label":"1374"},{"wn":900,"T":449,"label":"935"},{"wn":1008,"T":254,"label":"1022"},
{"wn":3896,"T":195,"label":"3833"},{"wn":3632,"T":186,"label":"3740"},{"wn":3368,"T":135,"label":"3400"},{"wn":2956,"T":139,"label":"2917"},{"wn":2672,"T":154,"label":"2850"},{"wn":2124,"T":195,"label":"2000"},{"wn":1832,"T":154,"label":"1760"},{"wn":1584,"T":128,"label":"1530"},{"wn":1352,"T":134,"label":"1437"},{"wn":868,"T":109,"label":"900"},{"wn":1288,"T":53,"label":"1022"}
],
"panels": [
{"wn":3900,"T":1097,"label":"(a)"},{"wn":3896,"T":842,"label":"(b)"},{"wn":3900,"T":585,"label":"(c)"},{"wn":3876,"T":285,"label":"(d)"}
]
},
"encoding": {
  "x": {"field": "wn", "type": "quantitative",
    "scale": {"domain": [700, 4000], "reverse": true, "nice": false, "zero": false},
    "axis": {"title": "Wavenumber (cm-1)", "titleFontSize": 20, "titleColor": "#222", "titlePadding": 6,
      "values": [3900,3800,3700,3600,3500,3400,3300,3200,3100,3000,2900,2800,2700,2600,2500,2400,2300,2200,2100,2000,1900,1800,1700,1600,1500,1400,1300,1200,1100,1000,900,800],
      "labelExpr": "datum.value % 500 === 0 ? format(datum.value, 'd') : ''",
      "labelFontSize": 19, "labelColor": "#222", "tickSize": 7, "labelPadding": 4, "labelFlush": false, "labelOverlap": false}},
  "y": {"field": "T", "type": "quantitative",
    "scale": {"domain": [0, 1136], "nice": false, "zero": false},
    "axis": {"title": "Transmittance", "titleFontSize": 20, "titleColor": "#222", "titlePadding": 9, "labels": false, "tickSize": 7,
      "values": [10,23.82,37.64,51.46,65.28,79.1,92.92,106.74,120.56,134.38,148.2,162.02,175.84,189.66,203.48,217.3,231.12,244.94,258.76,272.58,286.4,300.22,314.04,327.86,341.68,355.5,369.32,383.14,396.96,410.78,424.6,438.42,452.24,466.06,479.88,493.7,507.52,521.34,535.16,548.98,562.8,576.62,590.44,604.26,618.08,631.9,645.72,659.54,673.36,687.18,701,714.82,728.64,742.46,756.28,770.1,783.92,797.74,811.56,825.38,839.2,853.02,866.84,880.66,894.48,908.3,922.12,935.94,949.76,963.58,977.4,991.22,1005.04,1018.86,1032.68,1046.5,1060.32,1074.14,1087.96,1101.78]}}
},
"layer": [
  {"data": {"name": "spectra"}, "mark": {"type": "line", "color": "#e8392b", "strokeWidth": 1.5, "clip": true},
   "encoding": {"detail": {"field": "s"}}},
  {"data": {"name": "leaders"}, "mark": {"type": "rule", "color": "#555", "strokeWidth": 0.8},
   "encoding": {"x2": {"field": "wn2"}, "y2": {"field": "T2"}}},
  {"data": {"name": "labels"}, "mark": {"type": "text", "font": "Liberation Serif", "fontSize": 19, "color": "#222", "align": "center", "baseline": "middle"},
   "encoding": {"text": {"field": "label"}}},
  {"data": {"name": "panels"}, "mark": {"type": "text", "font": "Liberation Serif", "fontSize": 19, "color": "#222", "align": "center", "baseline": "middle"},
   "encoding": {"text": {"field": "label"}}}
]
}
